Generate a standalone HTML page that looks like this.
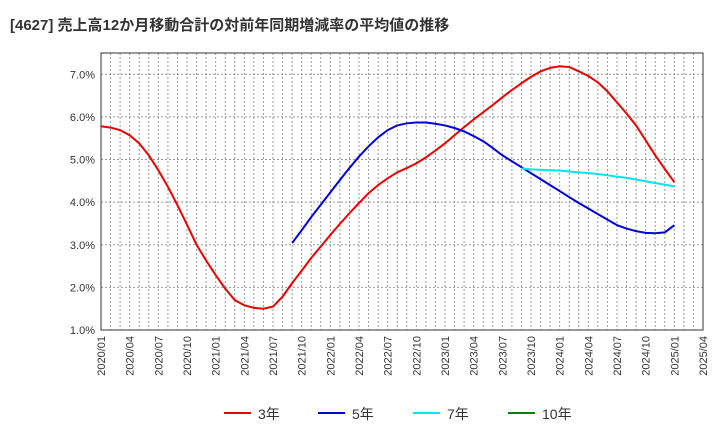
<!DOCTYPE html>
<html><head><meta charset="utf-8"><style>
body{margin:0;background:#fff;font-family:"Liberation Sans","Noto Sans CJK JP",sans-serif;}
</style></head><body>
<svg id="chart" width="720" height="440" xmlns="http://www.w3.org/2000/svg">
<text x="10" y="30" font-size="15" font-weight="bold" fill="#333" font-family="Liberation Sans, Noto Sans CJK JP, sans-serif">[4627]  売上高12か月移動合計の対前年同期増減率の平均値の推移</text>
<g id="grid"></g><g id="axes"></g><g id="series"></g><g id="legend"></g>
</svg>
<script>
const months = 64; // 2020/01 .. 2025/04
const yTicks = [1,2,3,4,5,6,7];
const xTickLabels = ["2020/01","2020/04","2020/07","2020/10","2021/01","2021/04","2021/07","2021/10","2022/01","2022/04","2022/07","2022/10","2023/01","2023/04","2023/07","2023/10","2024/01","2024/04","2024/07","2024/10","2025/01","2025/04"];
const s3Start = 0;
const s3 = [5.78,5.75,5.69,5.57,5.38,5.10,4.75,4.36,3.93,3.47,3.00,2.63,2.29,1.97,1.70,1.58,1.52,1.50,1.55,1.78,2.10,2.39,2.69,2.96,3.23,3.49,3.74,3.98,4.21,4.40,4.56,4.70,4.80,4.91,5.05,5.21,5.38,5.57,5.76,5.94,6.11,6.28,6.46,6.63,6.79,6.94,7.07,7.15,7.19,7.17,7.07,6.96,6.81,6.60,6.34,6.08,5.80,5.45,5.10,4.78,4.47];
const s5Start = 20;
const s5 = [3.04,3.34,3.65,3.94,4.23,4.52,4.80,5.07,5.31,5.52,5.69,5.80,5.85,5.87,5.87,5.84,5.80,5.74,5.66,5.55,5.43,5.27,5.10,4.96,4.82,4.68,4.54,4.40,4.26,4.12,3.98,3.85,3.72,3.59,3.46,3.38,3.32,3.28,3.27,3.29,3.46];
const s7Start = 44;
const s7 = [4.79,4.77,4.76,4.75,4.74,4.72,4.70,4.68,4.66,4.63,4.60,4.57,4.53,4.49,4.45,4.41,4.37];
const s10 = [];
const L=101,R=703,T=53,B=330,yMin=1,yMax=7.5;
const X=i=>L+(R-L)*i/(months-1);
const Y=v=>B-(B-T)*(v-yMin)/(yMax-yMin);
const NS="http://www.w3.org/2000/svg";
function mk(tag,attrs,parent){const e=document.createElementNS(NS,tag);for(const k in attrs)e.setAttribute(k,attrs[k]);document.getElementById(parent).appendChild(e);return e;}
for(let i=1;i<months-1;i++){const e=mk('line',{x1:X(i),x2:X(i),y1:T,y2:B,stroke:'#999','stroke-dasharray':'2,2','stroke-width':1},'grid');

}
yTicks.forEach(v=>{const e=mk('line',{x1:L,x2:R,y1:Y(v),y2:Y(v),stroke:'#999','stroke-dasharray':'2,2'},'grid');


const t=mk('text',{x:L-6,y:Y(v)+4,'text-anchor':'end','font-size':11,fill:'#333'},'axes');t.textContent=v.toFixed(1)+'%';

});
const fr=mk('rect',{x:L,y:T,width:R-L,height:B-T,fill:'none',stroke:'#333','stroke-width':1},'axes');


xTickLabels.forEach((lab,k)=>{const x=X(k*3);const t=mk('text',{transform:`translate(${x+4},${B+6}) rotate(-90)`,'text-anchor':'end','font-size':11,fill:'#333'},'axes');t.textContent=lab;

});
function line(arr,start,color,name){if(!arr.length)return;const p=mk('polyline',{points:arr.map((v,i)=>X(start+i)+','+Y(v)).join(' '),fill:'none',stroke:color,'stroke-width':2,'stroke-linejoin':'round'},'series');

}
line(s3,s3Start,'#e60000','series-3yr');
line(s5,s5Start,'#0000dd','series-5yr');
line(s7,s7Start,'#00e5ee','series-7yr');
line(s10,0,'#008000','series-10yr');
const leg=[['3年','#e60000',224],['5年','#0000dd',318],['7年','#00e5ee',413],['10年','#008000',508]];
leg.forEach(([lab,c,x])=>{const l=mk('line',{x1:x,x2:x+27,y1:413,y2:413,stroke:c,'stroke-width':2},'legend');


const t=mk('text',{x:x+34,y:419,'font-size':14,fill:'#333'},'legend');t.textContent=lab;

});
</script>
</body></html>
